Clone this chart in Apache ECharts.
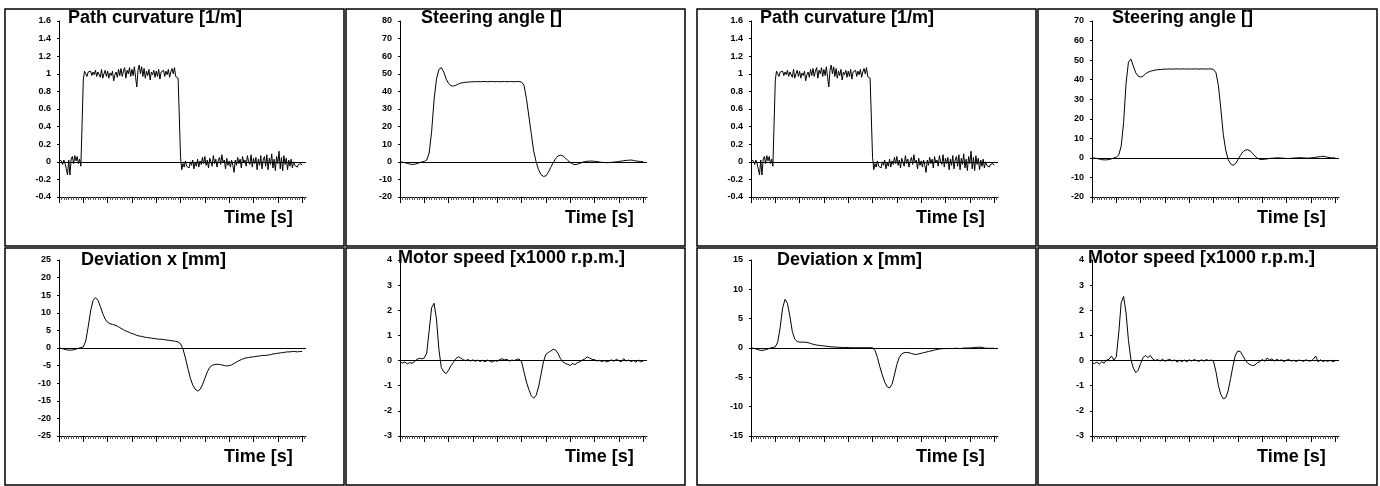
<!DOCTYPE html>
<html>
<head>
<meta charset="utf-8">
<script src="https://cdn.jsdelivr.net/npm/echarts@6/dist/echarts.min.js"></script>
<style>
  html, body { margin: 0; padding: 0; background: #fff; }
  #chart { width: 1380px; height: 486px; }
</style>
</head>
<body>
<div id="chart"></div>
<script>
// sample periods [s] of the recorded signals
var curvatureStep = 0.05
var sampleStep = 0.1
var timeTicks = [0, 1, 2, 3, 4, 5, 6, 7, 8, 9, 10]

// path curvature [1/m], same reference input for both runs (every 0.05 s)
var pathCurvature = [
  0.02, 0.03, 0.01, -0.03, 0.02, -0.02, -0.08, -0.15, 0.02, -0.15, 0.03, 0.06, -0.02, 0.07, 0.01, 0.06, -0.02, 0.03, -0.05, -0.07,
  0.93,
  1.03, 1.0, 0.97, 1.02, 1.01, 1.03, 0.98, 1.02, 0.99, 1.04, 0.97, 1.02, 1.01, 0.96, 1.05, 0.95, 1.0, 1.04, 0.97, 1.03,
  0.95, 1.01, 0.98, 1.03, 0.92, 0.99, 1.02, 0.96, 1.05, 0.98, 1.06, 0.97, 1.03, 1.07, 0.95, 1.04, 1.0, 1.07, 0.97, 1.05,
  0.98, 1.08, 0.96, 0.85, 1.04, 1.1, 1.0, 1.08, 0.97, 1.06, 0.95, 1.03, 0.98, 1.05, 0.93, 1.02, 0.99, 1.04, 0.96, 1.03,
  0.97, 1.05, 0.94, 1.02, 1.0, 1.04, 0.97, 1.03, 0.99, 1.05, 0.96, 1.02, 1.06, 1.0, 1.07, 0.97, 0.98, 0.95, 0.93,
  0.05,
  -0.09, -0.02, -0.06, 0.01, -0.05, -0.03, -0.07, 0.0, -0.04, 0.02, -0.08, -0.01, -0.05, 0.03, -0.06, 0.01, -0.03, 0.05, -0.02, 0.06,
  -0.04, 0.02, -0.07, 0.04, 0.0, -0.05, 0.07, -0.02, 0.03, -0.06, 0.01, 0.05, -0.03, 0.08, -0.01, 0.02, -0.08, 0.04, -0.04, 0.01,
  -0.06, 0.02, -0.04, -0.12, 0.02, -0.04, 0.05, -0.02, 0.03, -0.07, 0.06, -0.01, 0.02, -0.05, 0.07, 0.0, -0.03, 0.08, -0.06, 0.04,
  -0.02, 0.05, -0.09, 0.03, -0.04, 0.07, -0.08, 0.02, 0.06, -0.05, 0.08, -0.09, 0.04, -0.03, 0.09, -0.07, 0.03, -0.1, 0.06, -0.02,
  0.12, -0.08, 0.05, -0.1, 0.07, -0.03, 0.04, -0.09, 0.02, -0.05, 0.03, -0.07, 0.0, -0.04, -0.02, -0.06, -0.03, -0.05, -0.02, -0.04
]

// steering angle, every 0.1 s
var steeringLeft = [
  0, -0.2, -0.5, -0.9, -1.3, -1.5, -1.4, -1.0, -0.5, -0.1,
  0.2, 1.0, 5, 17, 35, 47, 52.5, 53.5, 51, 47,
  44.5, 43.2, 43.0, 43.5, 44.2, 44.7, 45.0, 45.2, 45.3, 45.4,
  45.5, 45.5, 45.6, 45.5, 45.6, 45.6, 45.5, 45.6, 45.6, 45.5,
  45.6, 45.5, 45.6, 45.6, 45.5, 45.6, 45.6, 45.5, 45.6, 45.6,
  45.3, 43.5, 36, 26, 16, 6, 0, -4.5, -7.3, -8.3,
  -8.0, -6, -3.2, -0.5, 1.8, 3.3, 3.8, 3.4, 2.2, 0.8,
  -0.4, -1.2, -1.6, -1.4, -0.9, -0.3, 0.1, 0.3, 0.4, 0.4,
  0.3, 0.1, -0.1, -0.3, -0.4, -0.5, -0.4, -0.3, -0.2, 0,
  0.2, 0.4, 0.6, 0.8, 0.9, 1.0, 0.8, 0.5, 0.3, 0.2, 0.2
]
var steeringRight = [
  0, -0.1, -0.3, -0.6, -0.9, -1.0, -1.0, -0.8, -0.5, -0.1,
  0.4, 1.5, 6, 18, 38, 49, 50.5, 47, 43.5, 41.8,
  41.3, 41.8, 43, 43.8, 44.3, 44.6, 44.9, 45.1, 45.2, 45.3,
  45.4, 45.4, 45.5, 45.4, 45.5, 45.5, 45.4, 45.5, 45.5, 45.4,
  45.5, 45.4, 45.5, 45.5, 45.4, 45.5, 45.5, 45.4, 45.5, 45.5,
  45.2, 43.5, 37, 25, 12, 4, -0.8, -3, -3.8, -3,
  -1, 1.2, 3, 4, 4.2, 3.6, 2.4, 1.0, -0.2, -0.7,
  -0.8, -0.7, -0.5, -0.3, -0.2, -0.1, 0, 0, -0.1, -0.2,
  -0.3, -0.3, -0.2, -0.1, 0, 0.1, 0.1, 0, -0.1, -0.1,
  0, 0.1, 0.3, 0.5, 0.7, 0.8, 0.6, 0.3, 0.1, 0, 0
]

// deviation x [mm], every 0.1 s
var deviationLeft = [
  0, -0.1, -0.3, -0.5, -0.6, -0.6, -0.5, -0.3, -0.1, 0.1,
  0.3, 2, 6, 10.5, 13.5, 14.3, 13.6, 11.8, 9.8, 8.2,
  7.3, 6.9, 6.7, 6.5, 6.2, 5.8, 5.4, 5.0, 4.7, 4.4,
  4.1, 3.9, 3.6, 3.4, 3.3, 3.1, 3.0, 2.9, 2.8, 2.7,
  2.6, 2.5, 2.5, 2.4, 2.3, 2.2, 2.1, 2.0, 1.9, 1.7,
  1.2, -0.3, -2.8, -5.8, -8.5, -10.5, -11.7, -12.2, -11.8, -10.5,
  -8.6, -6.8, -5.5, -4.9, -4.7, -4.6, -4.7, -4.8, -5.0, -5.1,
  -5.0, -4.8, -4.4, -4.0, -3.6, -3.3, -3.0, -2.8, -2.7, -2.6,
  -2.5, -2.4, -2.3, -2.2, -2.1, -2.1, -2.0, -1.9, -1.7, -1.6,
  -1.5, -1.4, -1.3, -1.2, -1.1, -1.1, -1.0, -1.0, -1.1, -1.0, -1.0
]
var deviationRight = [
  0, -0.05, -0.15, -0.3, -0.4, -0.4, -0.3, -0.15, 0, 0.1,
  0.2, 1.0, 3.5, 6.8, 8.3, 7.6, 5.4, 2.8, 1.5, 1.1,
  1.0, 1.0, 1.0, 0.95, 0.85, 0.7, 0.6, 0.5, 0.45, 0.4,
  0.35, 0.3, 0.25, 0.2, 0.18, 0.15, 0.12, 0.1, 0.1, 0.08,
  0.08, 0.06, 0.06, 0.05, 0.05, 0.06, 0.05, 0.05, 0.06, 0.05,
  0.05, -0.4, -1.6, -3.2, -4.6, -5.8, -6.6, -6.8, -6.2, -4.6,
  -2.8, -1.6, -1.0, -0.8, -0.75, -0.8, -0.95, -1.05, -1.1, -1.0,
  -0.9, -0.8, -0.7, -0.6, -0.5, -0.4, -0.3, -0.2, -0.15, -0.1,
  -0.1, -0.1, -0.08, -0.1, -0.05, -0.05, -0.1, -0.05, 0, 0,
  0, 0.05, 0.1, 0.12, 0.15, 0.1, 0, -0.05, -0.05, -0.05, -0.05
]

// motor speed [x1000 r.p.m.], every 0.1 s
var motorLeft = [
  -0.05, -0.1, -0.06, -0.13, -0.08, -0.11, -0.04, 0.05, 0.09, 0.07,
  0.1, 0.3, 1.2, 2.1, 2.28, 1.65, 0.45, -0.28, -0.45, -0.52,
  -0.38, -0.2, -0.07, 0.08, 0.15, 0.1, 0.03, 0.0, 0.04, -0.02,
  0.03, -0.03, 0.02, -0.04, 0.01, -0.05, 0.02, -0.02, -0.06, 0.0,
  -0.03, 0.04, 0.07, 0.03, 0.05, -0.02, 0.02, 0.0, 0.05, 0.06,
  -0.05, -0.45, -0.85, -1.15, -1.4, -1.5, -1.38, -1.05, -0.55, -0.05,
  0.25, 0.32, 0.38, 0.45, 0.42, 0.28, 0.08, -0.05, -0.12, -0.15,
  -0.2, -0.12, -0.16, -0.08, -0.05, 0.02, 0.06, 0.15, 0.1, 0.05,
  0.04, -0.02, 0.01, -0.04, 0.0, -0.05, -0.02, 0.03, -0.03, 0.05,
  0.0, -0.05, 0.08, -0.02, 0.02, -0.04, 0.0, -0.06, 0.02, -0.05, -0.02
]
var motorRight = [
  -0.1, -0.12, -0.06, -0.14, -0.05, -0.1, 0.02, 0.05, 0.18, 0.02,
  0.15, 1.1, 2.3, 2.55, 1.9, 0.8, 0.05, -0.3, -0.48, -0.38,
  -0.12, 0.12, 0.2, 0.12, 0.2, 0.06, 0.0, 0.04, -0.02, 0.06,
  -0.03, 0.02, 0.05, -0.02, 0.03, -0.06, 0.01, -0.04, 0.02, -0.05,
  0.03, -0.02, 0.04, 0.0, -0.03, 0.03, -0.02, 0.04, 0.0, 0.02,
  -0.03, -0.45, -1.0, -1.35, -1.52, -1.48, -1.2, -0.72, -0.2, 0.22,
  0.38, 0.36, 0.2, 0.03, -0.1, -0.16, -0.2, -0.18, -0.08, -0.05,
  0.05, -0.03, 0.1, 0.02, 0.07, -0.02, 0.05, 0.0, 0.03, -0.04,
  0.02, 0.04, -0.02, 0.01, -0.04, 0.02, 0.0, -0.03, 0.03, -0.01,
  -0.02, 0.05, 0.18, -0.05, 0.03, -0.04, 0.0, -0.03, 0.01, -0.04, -0.02
]

// panel layout: two runs side by side, each a 2x2 block of framed plots
var panelW = 339
var panelH = 237
var panels = [
  { name: 'Path curvature [1/m]', data: pathCurvature, step: curvatureStep, min: -0.4, max: 1.6, interval: 0.2, x: 5, y: 9, tx: 63, ty: 0 },
  { name: 'Steering angle []', data: steeringLeft, step: sampleStep, min: -20, max: 80, interval: 10, x: 346, y: 9, tx: 75, ty: 0 },
  { name: 'Deviation x [mm]', data: deviationLeft, step: sampleStep, min: -25, max: 25, interval: 5, x: 5, y: 248, tx: 76, ty: 3 },
  { name: 'Motor speed [x1000 r.p.m.]', data: motorLeft, step: sampleStep, min: -3, max: 4, interval: 1, x: 346, y: 248, tx: 52, ty: 1 },
  { name: 'Path curvature [1/m]', data: pathCurvature, step: curvatureStep, min: -0.4, max: 1.6, interval: 0.2, x: 697, y: 9, tx: 63, ty: 0 },
  { name: 'Steering angle []', data: steeringRight, step: sampleStep, min: -20, max: 70, interval: 10, x: 1038, y: 9, tx: 74, ty: 0 },
  { name: 'Deviation x [mm]', data: deviationRight, step: sampleStep, min: -15, max: 15, interval: 5, x: 697, y: 248, tx: 80, ty: 3 },
  { name: 'Motor speed [x1000 r.p.m.]', data: motorRight, step: sampleStep, min: -3, max: 4, interval: 1, x: 1038, y: 248, tx: 50, ty: 1 }
]

var font = 'Arial, "Liberation Sans", sans-serif'
var bigText = { fontSize: 18, fontWeight: 'bold', fontFamily: font, color: '#000' }

var myChart = echarts.init(document.getElementById('chart'))

var titles = []
var grids = []
var xAxes = []
var yAxes = []
var series = []
var frames = []

panels.forEach(function (p, i) {
  titles.push({ text: p.name, left: p.x + p.tx, top: p.y + p.ty, padding: 0, textStyle: bigText })
  titles.push({ text: 'Time [s]', left: p.x + 219, top: p.y + 200, padding: 0, textStyle: bigText })

  grids.push({ left: p.x + 54, top: p.y + 12, width: 247, height: 176 })

  // time axis stays at the bottom, zero line is drawn separately
  xAxes.push({
    type: 'value',
    gridIndex: i,
    min: 0,
    max: 10.16,
    interval: 1,
    axisLine: { onZero: false, lineStyle: { color: '#000', width: 1 } },
    axisTick: { show: true, length: 6, customValues: timeTicks, lineStyle: { color: '#000', width: 1 } },
    minorTick: { show: true, splitNumber: 10, length: 3, lineStyle: { color: '#555', width: 1 } },
    axisLabel: { show: false },
    splitLine: { show: false }
  })

  yAxes.push({
    type: 'value',
    gridIndex: i,
    min: p.min,
    max: p.max,
    interval: p.interval,
    axisLine: { show: true, onZero: false, lineStyle: { color: '#000', width: 1 } },
    axisTick: { show: true, length: 2, lineStyle: { color: '#000' } },
    axisLabel: { margin: 8, fontSize: 9, fontWeight: 'bold', fontFamily: font, color: '#000' },
    splitLine: { show: false }
  })

  series.push({
    type: 'line',
    xAxisIndex: i,
    yAxisIndex: i,
    showSymbol: false,
    symbol: 'none',
    lineStyle: { color: '#000', width: 1 },
    data: p.data.map(function (v, k) { return [+(k * p.step).toFixed(2), v] }),
    markLine: {
      silent: true,
      symbol: ['none', 'none'],
      label: { show: false },
      lineStyle: { color: '#000', width: 1, type: 'solid' },
      data: [{ yAxis: 0 }]
    }
  })

  frames.push({
    type: 'rect',
    shape: { x: p.x, y: p.y, width: panelW, height: panelH },
    style: { fill: 'transparent', stroke: '#000', lineWidth: 1.5 },
    silent: true
  })
})

var option = {
  animation: false,
  backgroundColor: '#fff',
  title: titles,
  grid: grids,
  xAxis: xAxes,
  yAxis: yAxes,
  series: series,
  graphic: { elements: frames }
}

myChart.setOption(option)
</script>
</body>
</html>
